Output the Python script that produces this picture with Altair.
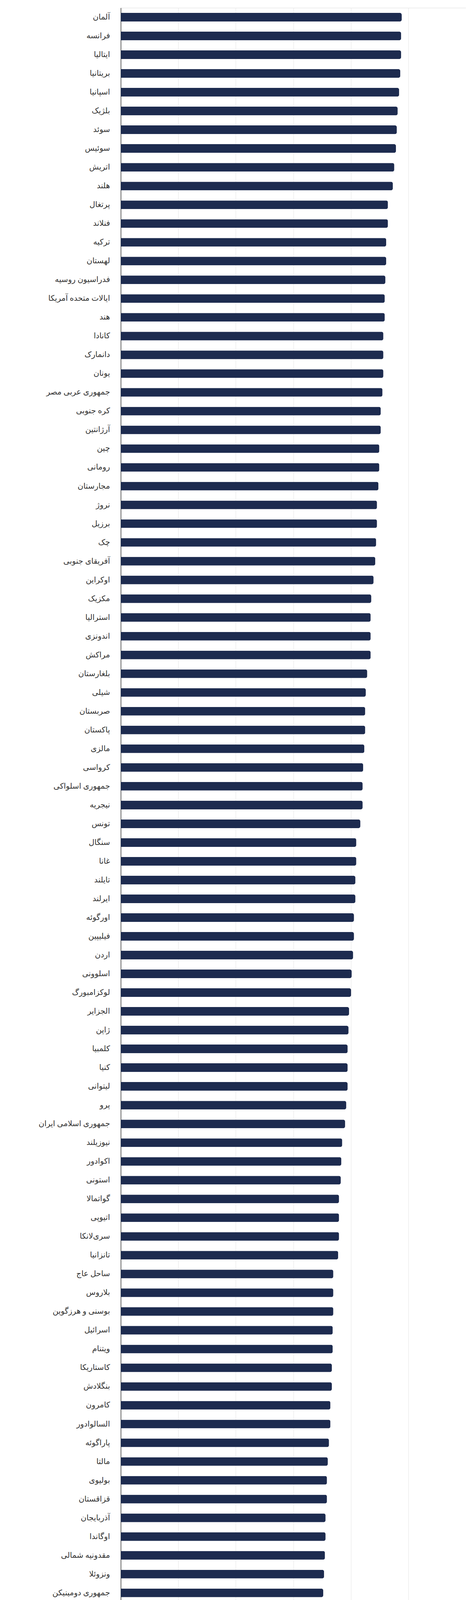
import altair as alt
import pandas as pd

countries = [
    "آلمان", "فرانسه", "ایتالیا", "بریتانیا", "اسپانیا", "بلژیک", "سوئد", "سوئیس", "اتریش", "هلند",
    "پرتغال", "فنلاند", "ترکیه", "لهستان", "فدراسیون روسیه", "ایالات متحده آمریکا", "هند", "کانادا", "دانمارک", "یونان",
    "جمهوری عربی مصر", "کره جنوبی", "آرژانتین", "چین", "رومانی", "مجارستان", "نروژ", "برزیل", "چک", "آفریقای جنوبی",
    "اوکراین", "مکزیک", "استرالیا", "اندونزی", "مراکش", "بلغارستان", "شیلی", "صربستان", "پاکستان", "مالزی",
    "کرواسی", "جمهوری اسلواکی", "نیجریه", "تونس", "سنگال", "غانا", "تایلند", "ایرلند", "اورگوئه", "فیلیپین",
    "اردن", "اسلوونی", "لوکزامبورگ", "الجزایر", "ژاپن", "کلمبیا", "کنیا", "لیتوانی", "پرو", "جمهوری اسلامی ایران",
    "نیوزیلند", "اکوادور", "استونی", "گواتمالا", "اتیوپی", "سری‌لانکا", "تانزانیا", "ساحل عاج", "بلاروس", "بوسنی و هرزگوین",
    "اسرائیل", "ویتنام", "کاستاریکا", "بنگلادش", "کامرون", "السالوادور", "پاراگوئه", "مالتا", "بولیوی", "قزاقستان",
    "آذربایجان", "اوگاندا", "مقدونیه شمالی", "ونزوئلا", "جمهوری دومینیکن", "کوبا", "بورکینافاسو", "مالی", "زامبیا", "ارمنستان",
    "لیبی", "بنین", "زیمبابوه", "مولداوی", "مغولستان", "قبرس", "جمهوری دموکراتیک کنگو", "سنگاپور", "گینه", "لتونی",
]

values = [
    97.7, 97.5, 97.5, 97.2, 96.8, 96.3, 96.0, 95.7, 95.1, 94.6,
    92.9, 92.9, 92.3, 92.3, 92.0, 91.8, 91.8, 91.3, 91.3, 91.3,
    91.0, 90.4, 90.4, 89.9, 89.9, 89.6, 89.1, 89.1, 88.8, 88.5,
    87.9, 87.1, 86.9, 86.9, 86.9, 85.7, 85.2, 85.0, 85.0, 84.7,
    84.3, 84.1, 84.1, 83.3, 81.9, 81.9, 81.6, 81.6, 81.1, 81.1,
    80.8, 80.3, 80.1, 79.4, 79.2, 78.9, 78.9, 78.9, 78.4, 78.0,
    77.0, 76.7, 76.5, 75.9, 75.9, 75.9, 75.6, 73.9, 73.9, 73.9,
    73.7, 73.7, 73.4, 73.4, 72.9, 72.9, 72.4, 72.0, 71.7, 71.7,
    71.2, 71.2, 71.0, 70.7, 70.4, 70.1, 70.1, 69.8, 69.6, 69.6,
    69.6, 69.6, 69.6, 69.3, 68.2, 67.9, 67.9, 67.6, 67.6, 67.4,
]

series_name = "شاخص حوزه جهانی‌سازی سیاسی"
x_ticks = [0, 20, 40, 60, 80, 100, 120]
credit = ["AmarFact.com"]

df = pd.DataFrame({"country": countries, "value": values, "series": series_name})
credit_df = pd.DataFrame({"text": credit})

BAR = "#1d2b4f"
LABEL_FONT = "Roboto, 'DejaVu Sans', sans-serif"

bars = alt.Chart(df).mark_bar(cornerRadiusEnd=5).encode(
    y=alt.Y(
        "country:N",
        sort=countries,
        scale=alt.Scale(paddingInner=0.54, paddingOuter=0.27),
        axis=alt.Axis(
            title=None, domain=True, domainColor="#333333", domainWidth=1.5,
            ticks=False, grid=False, labelFontSize=20, labelColor="#333333",
            labelPadding=28, labelLimit=400, labelFont=LABEL_FONT,
        ),
    ),
    x=alt.X(
        "value:Q",
        scale=alt.Scale(domain=[0, 120], nice=False),
        axis=alt.Axis(
            values=x_ticks, title=None, domain=False, ticks=False, grid=True,
            gridColor="#e6e6e6", gridWidth=1, labelFontSize=24, labelPadding=32,
            labelColor="#333333", labelFont="Roboto",
        ),
    ),
    color=alt.Color(
        "series:N",
        scale=alt.Scale(range=[BAR]),
        legend=alt.Legend(
            title=None, orient="none", legendX=104, legendY=4908, padding=0,
            symbolType="circle", symbolSize=529, symbolStrokeWidth=0,
            labelFontSize=20, labelColor="#333333", labelFont=LABEL_FONT,
            labelOffset=15, labelLimit=600,
        ),
    ),
)

credit_text = alt.Chart(credit_df).mark_text(
    align="right", baseline="middle", fontSize=19, color="#999999", font="Roboto"
).encode(
    text="text:N",
    x=alt.value(882),
    y=alt.value(4960),
)

chart = alt.layer(bars, credit_text).properties(
    width=883,
    height=4802,
    padding={"left": 301, "top": 12, "right": 0, "bottom": 168},
    autosize="none",
).configure_view(stroke=None).configure(background="white")

chart.save("out.html", embed_options={"renderer": "svg", "actions": False})
